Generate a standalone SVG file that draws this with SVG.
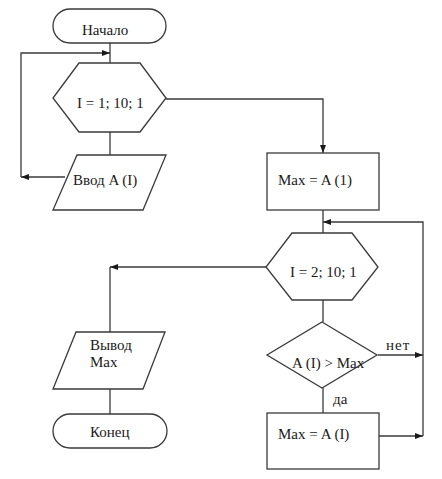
<svg xmlns="http://www.w3.org/2000/svg" width="442" height="479" viewBox="0 0 442 479">
<style>
.s{fill:#fff;stroke:#3a3a3a;stroke-width:1.3}
.c{fill:none;stroke:#3a3a3a;stroke-width:1.3}
text{font-family:'Liberation Serif','Times New Roman',serif;font-size:15px;fill:#1a1a1a}
</style>
<defs>
<marker id="ah" markerWidth="8" markerHeight="6" refX="8" refY="3" orient="auto" markerUnits="userSpaceOnUse">
<path d="M0,0 L8,3 L0,6 Z" fill="#1a1a1a"/>
</marker>
</defs>
<rect width="442" height="479" fill="#fff"/>
<g id="connectors">
<path class="c" d="M110,43 V63"/>
<path class="c" d="M65,177 H21" marker-end="url(#ah)"/>
<path class="c" d="M21,177 V53 H110" marker-end="url(#ah)"/>
<path class="c" d="M110,132 V155"/>
<path class="c" d="M166,99 H323 V153" marker-end="url(#ah)"/>
<path class="c" d="M323,210 V233"/>
<path class="c" d="M423,436 V222 H323" marker-end="url(#ah)"/>
<path class="c" d="M266,267 H110" marker-end="url(#ah)"/>
<path class="c" d="M110,267 V332"/>
<path class="c" d="M110,389 V414"/>
<path class="c" d="M323,300 V322"/>
<path class="c" d="M378,355 H423" marker-end="url(#ah)"/>
<path class="c" d="M323,388 V413"/>
<path class="c" d="M379,436 H423" marker-end="url(#ah)"/>
</g>
<g id="start">
<rect class="s" x="53" y="9" width="113" height="34" rx="17"/>
<text x="82" y="35">Начало</text>
</g>
<g id="loop1">
<polygon class="s" points="79,63 140,63 166,98 140,132 79,132 53,98"/>
<text x="77" y="108">I = 1; 10; 1</text>
</g>
<g id="input">
<polygon class="s" points="77,155 166,155 143,210 53,210"/>
<text x="73" y="185">Ввод  A (I)</text>
</g>
<g id="init">
<rect class="s" x="267" y="153" width="112" height="57"/>
<text x="278" y="185">Max  = A (1)</text>
</g>
<g id="loop2">
<polygon class="s" points="292,233 352,233 378,267 352,300 292,300 266,267"/>
<text x="290" y="277">I = 2; 10; 1</text>
</g>
<g id="cond">
<polygon class="s" points="322,322 377,355 322,388 267,355"/>
<text x="292" y="368">A (I) &gt; Max</text>
</g>
<g id="labels">
<text x="386" y="350" letter-spacing="1">нет</text>
<text x="333" y="404">да</text>
</g>
<g id="assign">
<rect class="s" x="267" y="413" width="112" height="56"/>
<text x="278" y="439">Max = A (I)</text>
</g>
<g id="output">
<polygon class="s" points="76,332 165,332 143,389 53,389"/>
<text x="90" y="350">Вывод</text>
<text x="90" y="367">Max</text>
</g>
<g id="end">
<rect class="s" x="53" y="414" width="114" height="34" rx="17"/>
<text x="90" y="437">Конец</text>
</g>
</svg>
